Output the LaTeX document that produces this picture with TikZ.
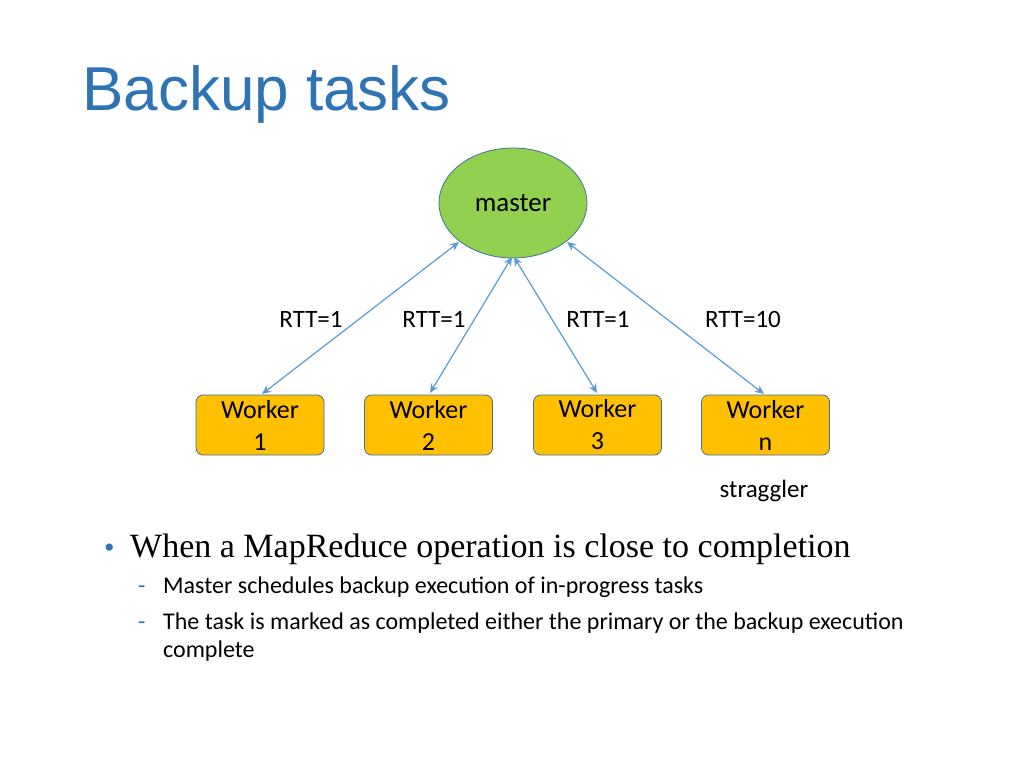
\documentclass[tikz,border=0pt]{standalone}
\usepackage{fontspec}
\setmainfont{Carlito}
\newfontfamily\titlefont{Liberation Sans}
\newfontfamily\serifont{Liberation Serif}
\usetikzlibrary{arrows.meta,shapes.geometric}
\definecolor{ttl}{HTML}{2E74B5}
\definecolor{edge}{HTML}{5B9BD5}
\definecolor{bord}{HTML}{41719C}
\definecolor{mgreen}{HTML}{92D050}
\definecolor{worky}{HTML}{FFC000}
\begin{document}
\begin{tikzpicture}[x=1pt,y=-1pt,
  workbox/.style={draw=bord,fill=worky,rounded corners=7pt,minimum width=128pt,minimum height=60pt,inner sep=0pt,align=center,font=\fontsize{26}{32}\selectfont,line width=0.8pt},
  link/.style={draw=edge,line width=1.2pt,{Stealth[length=9pt,width=8pt]}-{Stealth[length=9pt,width=8pt]}},
  lbl/.style={font=\fontsize{25}{28}\selectfont},
  body/.style={anchor=base west,inner sep=0pt,font=\fontsize{24}{28}\selectfont}]
\path[use as bounding box,fill=white] (0,0) rectangle (1024,768);
\node[anchor=base west,inner sep=0pt,text=ttl,font=\titlefont\fontsize{62}{66}\selectfont] (title) at (82,110) {Backup tasks};
\node[draw=bord,fill=mgreen,ellipse,minimum width=148pt,minimum height=110pt,inner sep=0pt,line width=0.8pt,font=\fontsize{27}{30}\selectfont] (m) at (513,203) {master};
\node[workbox] (w1) at (260,425) {Worker\\1};
\node[workbox] (w2) at (428.5,425) {Worker\\2};
\node[workbox] (w3) at (597.5,425) {Worker\\3};
\node[workbox] (wn) at (765.5,425) {Worker\\n};
\coordinate (m1) at (459,242); \coordinate (m2) at (512,257);
\coordinate (m3) at (514,257); \coordinate (m4) at (567,242);
\coordinate (t1) at (262,394); \coordinate (t2) at (430,393);
\coordinate (t3) at (597,393); \coordinate (t4) at (764,394);
\draw[link] (m1) -- (t1);
\draw[link] (m2) -- (t2);
\draw[link] (m3) -- (t3);
\draw[link] (m4) -- (t4);
\node[lbl] (r1) at (311,319) {RTT=1};
\node[lbl] (r2) at (434,319) {RTT=1};
\node[lbl] (r3) at (598,319) {RTT=1};
\node[lbl] (r4) at (743,319) {RTT=10};
\node[lbl] (st) at (764,491) {straggler};
\node[anchor=base west,inner sep=0pt,text=ttl,font=\serifont\fontsize{30}{30}\selectfont] (b) at (104,557) {•};
\node[anchor=base west,inner sep=0pt,font=\serifont\fontsize{34}{36}\selectfont] (bt) at (130,557) {When a MapReduce operation is close to completion};
\node[body,text=ttl] (d1) at (138,593) {-};
\node[body] (s1) at (163,593) {Master schedules backup execution of in-progress tasks};
\node[body,text=ttl] (d2) at (138,629) {-};
\node[body] (s2) at (163,629) {The task is marked as completed either the primary or the backup execution};
\node[body] (s3) at (163,657) {complete};
\end{tikzpicture}
\end{document}
